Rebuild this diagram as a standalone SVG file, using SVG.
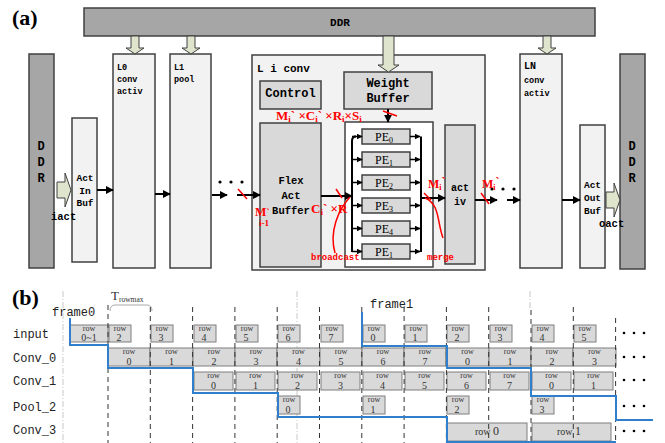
<svg xmlns="http://www.w3.org/2000/svg" width="665" height="443" viewBox="0 0 665 443">
<defs>
<marker id="ah" viewBox="0 0 10 10" refX="9" refY="5" markerWidth="4" markerHeight="4" orient="auto"><path d="M0,0L10,5L0,10z" fill="#000"/></marker>
<style>
.lt{fill:#f2f2f2;stroke:#404040;stroke-width:1.5}
.dk{fill:#a6a6a6;stroke:#404040;stroke-width:1.5}
.md{fill:#d9d9d9;stroke:#404040;stroke-width:1.5}
.ha{fill:#dfe4cc;stroke:#404040;stroke-width:1}
.m{font-family:"Liberation Mono",monospace;font-weight:bold;fill:#000}
.r{fill:#f00;font-family:"Liberation Serif",serif;font-weight:bold}
.rm{fill:#f00;font-family:"Liberation Mono",monospace;font-weight:bold;font-size:9px}
.ar{stroke:#000;stroke-width:2;fill:none;marker-end:url(#ah)}
.ar2{stroke:#000;stroke-width:1.5;fill:none;marker-end:url(#ah)}
.rl{stroke:#f00;stroke-width:1.5;fill:none}
.bx{fill:#d9d9d9;stroke:#7f7f7f;stroke-width:1}
.rw{font-family:"Liberation Serif",serif;font-size:8px;fill:#333;text-anchor:middle}
.nm{font-family:"Liberation Serif",serif;font-size:10px;fill:#333;text-anchor:middle}
.dl{stroke:#333;stroke-width:1;stroke-dasharray:5,4}
.gl{stroke:#c8c8c8;stroke-width:1;stroke-dasharray:6,2,1,2}
.bl{stroke:#2f7fcc;stroke-width:2;fill:none}
.lb{font-family:"Liberation Mono",monospace;font-size:12px;fill:#222}
.pe{font-family:"Liberation Serif",serif;font-size:12px;fill:#000;text-anchor:middle}
</style>
</defs>
<rect width="665" height="443" fill="#fff"/>

<text x="12" y="25" font-family="Liberation Serif" font-weight="bold" font-size="22">(a)</text>

<g id="ddr-top"><rect class="dk" x="84" y="8" width="511" height="28"/><text class="m" x="340" y="26" font-size="11" text-anchor="middle">DDR</text></g>
<g id="ddr-left"><rect class="dk" x="29" y="54" width="25" height="214"/><text class="m" font-size="12" text-anchor="middle" x="41"><tspan x="41" y="150">D</tspan><tspan x="41" y="166">D</tspan><tspan x="41" y="182">R</tspan></text></g>
<g id="act-in-buf"><rect class="lt" x="72" y="118" width="25" height="144"/><text class="m" font-size="9.5" text-anchor="middle"><tspan x="85" y="181">Act</tspan><tspan x="85" y="194">In</tspan><tspan x="85" y="206">Buf</tspan></text></g>
<g id="l0"><rect class="lt" x="113" y="54" width="42" height="214"/><text class="m" font-size="8.5"><tspan x="117" y="70">L0</tspan><tspan x="117" y="82">conv</tspan><tspan x="117" y="94">activ</tspan></text></g>
<g id="l1"><rect class="lt" x="170" y="54" width="41" height="214"/><text class="m" font-size="8.5"><tspan x="174" y="70">L1</tspan><tspan x="174" y="82">pool</tspan></text></g>
<g id="li-conv"><rect class="lt" x="252" y="55" width="233" height="215" fill="#f0f0f0"/><text class="m" x="257" y="72" font-size="11">L i conv</text></g>
<g id="control"><rect class="md" x="260" y="81" width="61" height="28"/><text class="m" x="290.5" y="97" font-size="12" text-anchor="middle">Control</text></g>
<g id="weight-buffer"><rect class="md" x="344" y="72" width="88" height="37"/><text class="m" font-size="12" text-anchor="middle"><tspan x="388" y="87">Weight</tspan><tspan x="388" y="102">Buffer</tspan></text></g>
<g id="flex-act-buffer"><rect class="md" x="260" y="123" width="61" height="144"/><text class="m" font-size="10.5" text-anchor="middle"><tspan x="291" y="184">Flex</tspan><tspan x="291" y="199">Act</tspan><tspan x="291" y="214">Buffer</tspan></text></g>
<g id="pe-array"><rect x="345" y="122" width="88" height="145" fill="#fff" stroke="#404040" stroke-width="1.5"/>
<rect class="md" x="362" y="129" width="48" height="15"/><text class="pe" x="384" y="141">PE<tspan font-size="8" dy="2">0</tspan></text>
<rect class="md" x="362" y="152" width="48" height="15"/><text class="pe" x="384" y="164">PE<tspan font-size="8" dy="2">1</tspan></text>
<rect class="md" x="362" y="175" width="48" height="15"/><text class="pe" x="384" y="187">PE<tspan font-size="8" dy="2">2</tspan></text>
<rect class="md" x="362" y="198" width="48" height="15"/><text class="pe" x="384" y="210">PE<tspan font-size="8" dy="2">3</tspan></text>
<rect class="md" x="362" y="221" width="48" height="15"/><text class="pe" x="384" y="233">PE<tspan font-size="8" dy="2">4</tspan></text>
<rect class="md" x="362" y="244" width="48" height="15"/><text class="pe" x="384" y="256">PE<tspan font-size="8" dy="2">1</tspan></text>
</g>
<g id="act-iv"><rect class="md" x="445" y="125" width="30" height="139"/><text class="m" font-size="10" text-anchor="middle"><tspan x="460" y="191">act</tspan><tspan x="460" y="205">iv</tspan></text></g>
<g id="ln"><rect class="lt" x="520" y="54" width="42" height="214"/><text class="m"><tspan x="524" y="69" font-size="10">LN</tspan><tspan x="524" y="83" font-size="8.5">conv</tspan><tspan x="524" y="96" font-size="8.5">activ</tspan></text></g>
<g id="act-out-buf"><rect class="lt" x="580" y="125" width="25" height="143"/><text class="m" font-size="9.5" text-anchor="middle"><tspan x="592.5" y="188">Act</tspan><tspan x="592.5" y="201">Out</tspan><tspan x="592.5" y="214">Buf</tspan></text></g>
<g id="ddr-right"><rect class="dk" x="620" y="54" width="25" height="215"/><text class="m" font-size="12" text-anchor="middle"><tspan x="632" y="150">D</tspan><tspan x="632" y="166">D</tspan><tspan x="632" y="182">R</tspan></text></g>

<g id="connectors">
<polygon class="ha" points="131,36 139,36 139,48 144,48 135,54 126,48 131,48"/>
<polygon class="ha" points="187,36 195,36 195,48 200,48 191,54 182,48 187,48"/>
<polygon class="ha" points="383,36 394,36 394,65 399,65 388.5,72 378,65 383,65"/>
<polygon class="ha" points="543,36 551,36 551,48 556,48 547,54 538,48 543,48"/>
<polygon class="ha" points="57,182 65,182 65,173 71,190 65,207 65,198 57,198"/>
<polygon class="ha" points="606,192 614,192 614,183 620,200 614,217 614,208 606,208"/>
<text class="m" x="51" y="220" font-size="10.5">iact</text>
<text class="m" x="599" y="227" font-size="10.5">oact</text>
<line class="ar" x1="97" y1="190" x2="113" y2="190"/>
<line class="ar" x1="155" y1="194" x2="170" y2="194"/>
<line class="ar" x1="212" y1="195" x2="227" y2="195"/>
<circle cx="220" cy="182" r="1.6"/><circle cx="231" cy="182" r="1.6"/><circle cx="242" cy="182" r="1.6"/>
<line class="ar" x1="237" y1="195" x2="260" y2="195"/>
<line class="ar" x1="321" y1="196" x2="352" y2="196"/>
<line class="ar" x1="388" y1="109" x2="388" y2="122"/>
<path d="M352,252V141Q352,136.5 356,136.5H354" stroke="#000" stroke-width="2" fill="none"/>
<line class="ar2" x1="352" y1="136.5" x2="362" y2="136.5"/>
<line class="ar2" x1="352" y1="159.5" x2="362" y2="159.5"/>
<line class="ar2" x1="352" y1="182.5" x2="362" y2="182.5"/>
<line class="ar2" x1="352" y1="205.5" x2="362" y2="205.5"/>
<line class="ar2" x1="352" y1="228.5" x2="362" y2="228.5"/>
<line class="ar2" x1="352" y1="251.5" x2="362" y2="251.5"/>
<line x1="421" y1="136.5" x2="421" y2="252" stroke="#000" stroke-width="2"/>
<line class="ar2" x1="410" y1="136.5" x2="420" y2="136.5"/>
<line class="ar2" x1="410" y1="159.5" x2="420" y2="159.5"/>
<line class="ar2" x1="410" y1="182.5" x2="420" y2="182.5"/>
<line class="ar2" x1="410" y1="205.5" x2="420" y2="205.5"/>
<line class="ar2" x1="410" y1="228.5" x2="420" y2="228.5"/>
<line class="ar2" x1="410" y1="251.5" x2="420" y2="251.5"/>
<line class="ar" x1="421" y1="198" x2="445" y2="198"/>
<line class="ar" x1="475" y1="200" x2="497" y2="200"/>
<circle cx="492" cy="189" r="1.6"/><circle cx="503" cy="189" r="1.6"/><circle cx="514" cy="189" r="1.6"/>
<line class="ar" x1="507" y1="200" x2="520" y2="200"/>
<line class="ar" x1="562" y1="200" x2="580" y2="200"/>
</g>

<g id="annotations">
<text class="r" x="276" y="120" font-size="13">M<tspan font-size="9" dy="2">i</tspan><tspan dy="-2">` ×C</tspan><tspan font-size="9" dy="2">i</tspan><tspan dy="-2">` ×R</tspan><tspan font-size="9" dy="2">i</tspan><tspan dy="-2">×S</tspan><tspan font-size="9" dy="2">i</tspan></text>
<line class="rl" x1="383" y1="111" x2="397" y2="116"/>
<line class="rl" x1="238" y1="189" x2="247" y2="199"/>
<text class="r" x="255" y="216" font-size="12">M<tspan font-size="10">`</tspan></text>
<text class="r" x="259" y="226" font-size="9">i-1</text>
<text class="r" x="311" y="213" font-size="13">C<tspan font-size="9" dy="2">i</tspan><tspan dy="-2">` ×R</tspan></text>
<line class="rl" x1="336" y1="189" x2="342" y2="198"/>
<path class="rl" d="M335,253C329,232 338,210 350,197" stroke-width="1"/>
<text class="rm" x="311" y="260">broadcast</text>
<text class="r" x="428" y="188" font-size="12">M<tspan font-size="8" dy="2">i</tspan><tspan dy="-4">`</tspan></text>
<line class="rl" x1="424" y1="193" x2="431" y2="200"/>
<path class="rl" d="M425,198C440,204 437,222 443,238" stroke-width="1"/>
<text class="rm" x="427" y="260">merge</text>
<text class="r" x="482" y="188" font-size="12">M<tspan font-size="8" dy="2">i</tspan><tspan dy="-4">`</tspan></text>
<line class="rl" x1="481" y1="193" x2="489" y2="204"/>
</g>

<text x="12" y="305" font-family="Liberation Serif" font-weight="bold" font-size="22">(b)</text>
<g id="labels-b">
<text class="lb" x="52" y="316" font-size="12.5">frame0</text>
<text class="lb" x="370" y="308" font-size="12.5">frame1</text>
<text x="111" y="300" font-family="Liberation Serif" font-size="13" fill="#333">T<tspan font-size="7.5" dy="2">rowmax</tspan></text>
<path d="M110,311Q110,305 115,305H147Q152,305 152,311" stroke="#aaa" stroke-width="1" fill="none"/>
<text class="lb" x="13" y="338">input</text>
<text class="lb" x="13" y="362">Conv_0</text>
<text class="lb" x="13" y="385">Conv_1</text>
<text class="lb" x="13" y="411">Pool_2</text>
<text class="lb" x="13" y="434">Conv_3</text>
</g>

<g id="guides">
<line class="gl" x1="63" y1="291" x2="63" y2="443"/>
<line class="gl" x1="297" y1="291" x2="297" y2="443"/>
<line class="gl" x1="530" y1="291" x2="530" y2="310"/>
</g>

<g id="row-input">
<rect class="bx" x="70" y="325" width="38" height="17"/><text class="rw" x="89" y="331">row</text><text class="nm" x="89" y="341">0~1</text>
<rect class="bx" x="109" y="325" width="22" height="17"/><text class="rw" x="120" y="331">row</text><text class="nm" x="119" y="341">2</text>
<rect class="bx" x="151" y="325" width="22" height="17"/><text class="rw" x="162" y="331">row</text><text class="nm" x="161" y="341">3</text>
<rect class="bx" x="194" y="325" width="22" height="17"/><text class="rw" x="205" y="331">row</text><text class="nm" x="204" y="341">4</text>
<rect class="bx" x="236" y="325" width="22" height="17"/><text class="rw" x="247" y="331">row</text><text class="nm" x="246" y="341">5</text>
<rect class="bx" x="278" y="325" width="22" height="17"/><text class="rw" x="289" y="331">row</text><text class="nm" x="288" y="341">6</text>
<rect class="bx" x="321" y="325" width="22" height="17"/><text class="rw" x="332" y="331">row</text><text class="nm" x="331" y="341">7</text>
<rect class="bx" x="363" y="325" width="22" height="17"/><text class="rw" x="374" y="331">row</text><text class="nm" x="373" y="341">0</text>
<rect class="bx" x="405" y="325" width="22" height="17"/><text class="rw" x="416" y="331">row</text><text class="nm" x="415" y="341">1</text>
<rect class="bx" x="447" y="325" width="22" height="17"/><text class="rw" x="458" y="331">row</text><text class="nm" x="457" y="341">2</text>
<rect class="bx" x="490" y="325" width="22" height="17"/><text class="rw" x="501" y="331">row</text><text class="nm" x="500" y="341">3</text>
<rect class="bx" x="532" y="325" width="22" height="17"/><text class="rw" x="543" y="331">row</text><text class="nm" x="542" y="341">4</text>
<rect class="bx" x="574" y="325" width="22" height="17"/><text class="rw" x="585" y="331">row</text><text class="nm" x="584" y="341">5</text>
</g>

<g id="row-conv0">
<rect class="bx" x="108" y="348" width="42" height="18"/><text class="rw" x="129" y="354">row</text><text class="nm" x="129" y="365">0</text>
<rect class="bx" x="150" y="348" width="43" height="18"/><text class="rw" x="171.5" y="354">row</text><text class="nm" x="171.5" y="365">1</text>
<rect class="bx" x="193" y="348" width="42" height="18"/><text class="rw" x="214" y="354">row</text><text class="nm" x="214" y="365">2</text>
<rect class="bx" x="235" y="348" width="42" height="18"/><text class="rw" x="256" y="354">row</text><text class="nm" x="256" y="365">3</text>
<rect class="bx" x="277" y="348" width="43" height="18"/><text class="rw" x="298.5" y="354">row</text><text class="nm" x="298.5" y="365">4</text>
<rect class="bx" x="320" y="348" width="42" height="18"/><text class="rw" x="341" y="354">row</text><text class="nm" x="341" y="365">5</text>
<rect class="bx" x="362" y="348" width="42" height="18"/><text class="rw" x="383" y="354">row</text><text class="nm" x="383" y="365">6</text>
<rect class="bx" x="404" y="348" width="42" height="18"/><text class="rw" x="425" y="354">row</text><text class="nm" x="425" y="365">7</text>
<rect class="bx" x="446" y="348" width="43" height="18"/><text class="rw" x="467.5" y="354">row</text><text class="nm" x="467.5" y="365">0</text>
<rect class="bx" x="489" y="348" width="42" height="18"/><text class="rw" x="510" y="354">row</text><text class="nm" x="510" y="365">1</text>
<rect class="bx" x="531" y="348" width="42" height="18"/><text class="rw" x="552" y="354">row</text><text class="nm" x="552" y="365">2</text>
<rect class="bx" x="573" y="348" width="43" height="18"/><text class="rw" x="594.5" y="354">row</text><text class="nm" x="594.5" y="365">3</text>
</g>

<g id="row-conv1">
<rect class="bx" x="194" y="372" width="39" height="18"/><text class="rw" x="213.5" y="378">row</text><text class="nm" x="213.5" y="389">0</text>
<rect class="bx" x="236" y="372" width="39" height="18"/><text class="rw" x="255.5" y="378">row</text><text class="nm" x="255.5" y="389">1</text>
<rect class="bx" x="278" y="372" width="39" height="18"/><text class="rw" x="297.5" y="378">row</text><text class="nm" x="297.5" y="389">2</text>
<rect class="bx" x="321" y="372" width="39" height="18"/><text class="rw" x="340.5" y="378">row</text><text class="nm" x="340.5" y="389">3</text>
<rect class="bx" x="363" y="372" width="39" height="18"/><text class="rw" x="382.5" y="378">row</text><text class="nm" x="382.5" y="389">4</text>
<rect class="bx" x="405" y="372" width="39" height="18"/><text class="rw" x="424.5" y="378">row</text><text class="nm" x="424.5" y="389">5</text>
<rect class="bx" x="447" y="372" width="39" height="18"/><text class="rw" x="466.5" y="378">row</text><text class="nm" x="466.5" y="389">6</text>
<rect class="bx" x="490" y="372" width="39" height="18"/><text class="rw" x="509.5" y="378">row</text><text class="nm" x="509.5" y="389">7</text>
<rect class="bx" x="532" y="372" width="39" height="18"/><text class="rw" x="551.5" y="378">row</text><text class="nm" x="551.5" y="389">0</text>
<rect class="bx" x="574" y="372" width="39" height="18"/><text class="rw" x="593.5" y="378">row</text><text class="nm" x="593.5" y="389">1</text>
</g>

<g id="row-pool2">
<rect class="bx" x="278" y="396" width="22" height="18"/><text class="rw" x="289" y="402">row</text><text class="nm" x="288" y="413">0</text>
<rect class="bx" x="363" y="396" width="22" height="18"/><text class="rw" x="374" y="402">row</text><text class="nm" x="373" y="413">1</text>
<rect class="bx" x="447" y="396" width="22" height="18"/><text class="rw" x="458" y="402">row</text><text class="nm" x="457" y="413">2</text>
<rect class="bx" x="532" y="396" width="22" height="18"/><text class="rw" x="543" y="402">row</text><text class="nm" x="542" y="413">3</text>
</g>

<g id="row-conv3">
<rect class="bx" x="447" y="423" width="80" height="18"/><text x="475" y="435" font-family="Liberation Serif" fill="#333" font-size="10">row <tspan font-size="12">0</tspan></text>
<rect class="bx" x="532" y="423" width="79" height="18"/><text x="557" y="435" font-family="Liberation Serif" fill="#333" font-size="10">row <tspan font-size="12">1</tspan></text>
</g>

<g id="time-grid">
<line class="dl" x1="108" y1="305" x2="108" y2="443"/>
<line class="dl" x1="150.3" y1="307" x2="150.3" y2="443"/>
<line class="dl" x1="192.6" y1="307" x2="192.6" y2="443"/>
<line class="dl" x1="234.9" y1="307" x2="234.9" y2="443"/>
<line class="dl" x1="277.2" y1="307" x2="277.2" y2="443"/>
<line class="dl" x1="319.5" y1="307" x2="319.5" y2="443"/>
<line class="dl" x1="361.8" y1="307" x2="361.8" y2="443"/>
<line class="dl" x1="404.1" y1="307" x2="404.1" y2="443"/>
<line class="dl" x1="446.4" y1="307" x2="446.4" y2="443"/>
<line class="dl" x1="488.7" y1="307" x2="488.7" y2="443"/>
<line class="dl" x1="531" y1="310" x2="531" y2="443"/>
<line class="dl" x1="573.3" y1="307" x2="573.3" y2="443"/>
<line class="dl" x1="615.6" y1="318" x2="615.6" y2="443"/>
</g>

<g id="pipeline-frames">
<path class="bl" d="M70,318V345H108V368H193V393H278V417H447V442H616"/>
<path class="bl" d="M362,312V346H447V368H531V396H616V420H653"/>
</g>

<g id="ellipses" fill="#000">
<circle cx="624" cy="333" r="1.3"/><circle cx="634" cy="333" r="1.3"/><circle cx="644" cy="333" r="1.3"/>
<circle cx="624" cy="357" r="1.3"/><circle cx="634" cy="357" r="1.3"/><circle cx="644" cy="357" r="1.3"/>
<circle cx="624" cy="380" r="1.3"/><circle cx="634" cy="380" r="1.3"/><circle cx="644" cy="380" r="1.3"/>
<circle cx="624" cy="406" r="1.3"/><circle cx="634" cy="406" r="1.3"/><circle cx="644" cy="406" r="1.3"/>
<circle cx="624" cy="431" r="1.3"/><circle cx="634" cy="431" r="1.3"/><circle cx="644" cy="431" r="1.3"/>
</g>
</svg>
